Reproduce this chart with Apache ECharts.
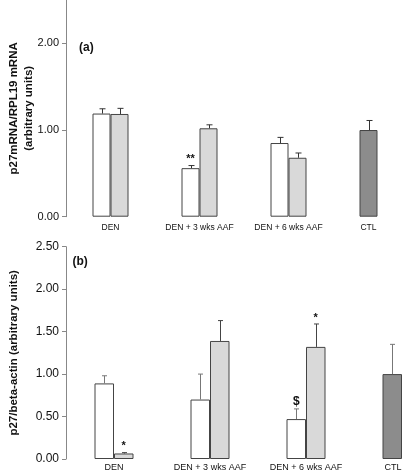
<!DOCTYPE html>
<html><head><meta charset="utf-8">
<script src="https://cdn.jsdelivr.net/npm/echarts@6/dist/echarts.min.js"></script>
<style>html,body{margin:0;padding:0;background:#fff}#c{width:402px;height:476px}</style>
</head><body><div id="c"></div>
<script>
// ---- data ----
const categories = ['DEN', 'DEN + 3 wks AAF', 'DEN + 6 wks AAF', 'CTL'];
// Panel (a): p27 mRNA / RPL19 mRNA  (first slot = DEN-treated / CTL, second slot = other group)
const aWhite = [1.19, 0.56, 0.85, 1.00];
const aWhiteErr = [0.055, 0.03, 0.065, 0.11];
const aGrey = [1.185, 1.02, 0.68, null];
const aGreyErr = [0.065, 0.04, 0.055, null];
const aTicks = [0, 1, 2];
// Panel (b): p27 / beta-actin
const bWhite = [0.89, 0.70, 0.47, 1.00];
const bWhiteErr = [0.09, 0.30, 0.12, 0.35];
const bGrey = [0.065, 1.39, 1.32, null];
const bGreyErr = [0.01, 0.24, 0.27, null];
const bTicks = [0, 0.5, 1, 1.5, 2, 2.5];
// significance marks: [panel, category, slot(0 white / 1 grey), text]
const marks = [
  ['a', 1, 0, '**'],
  ['b', 0, 1, '*'],
  ['b', 2, 0, '$'],
  ['b', 2, 1, '*']
];

const FONT = "'Liberation Sans', Arial, sans-serif";
const chart = echarts.init(document.getElementById('c'));

function barData(vals, ctlColor) {
  return vals.map((v, i) => {
    if (v == null) return null;
    if (i === 3) return { value: v, itemStyle: { color: ctlColor } };
    return v;
  });
}

function errSeries(idx, vals, errs, side, bw, color, cap) {
  const data = [];
  vals.forEach((v, i) => { if (v != null) data.push([i, v, v + errs[i]]); });
  return {
    type: 'custom', xAxisIndex: idx, yAxisIndex: idx, data, z: 5, silent: true, clip: false,
    renderItem(params, api) {
      const p0 = api.coord([api.value(0), api.value(1)]);
      const p1 = api.coord([api.value(0), api.value(2)]);
      const x = Math.round(p0[0] + side * bw / 2) + 0.5;
      return { type: 'group', children: [
        { type: 'line', shape: { x1: x, y1: p0[1], x2: x, y2: p1[1] }, style: { stroke: color, lineWidth: 1 } },
        { type: 'line', shape: { x1: x - cap, y1: p1[1], x2: x + cap, y2: p1[1] }, style: { stroke: color, lineWidth: 1 } }
      ] };
    }
  };
}

function markSeries(idx, panel, vals, errs, valsG, errsG, bw) {
  const data = [];
  marks.forEach(m => {
    if (m[0] !== panel) return;
    const v = m[2] === 0 ? vals[m[1]] + errs[m[1]] : valsG[m[1]] + errsG[m[1]];
    data.push([m[1], v, m[2], m[3]]);
  });
  return {
    type: 'custom', xAxisIndex: idx, yAxisIndex: idx, data, z: 6, silent: true, clip: false,
    renderItem(params, api) {
      const p = api.coord([api.value(0), api.value(1)]);
      const side = api.value(2) === 0 ? -1 : 1;
      const txt = data[params.dataIndex][3];
      return { type: 'text', x: p[0] + side * bw / 2, y: p[1] - 1,
        style: { text: txt, textAlign: 'center', textVerticalAlign: 'bottom',
          font: (txt === '$' ? 'bold 12px ' : 'bold 11px ') + FONT, fill: '#111' } };
    }
  };
}

const bwA = 18, bwB = 19.5;
const catLabel = (fs, top) => ({
  fontFamily: FONT, fontSize: fs, color: '#111', margin: top, interval: 0, hideOverlap: false,
  formatter: v => v === 'CTL' ? '{ctl|CTL}' : v,
  rich: { ctl: { fontFamily: FONT, fontSize: fs, color: '#111', padding: [0, 18, 0, 0] } }
});
const yLab = fs => ({ fontFamily: FONT, fontSize: fs, color: '#111', margin: 7, formatter: v => v.toFixed(2) });

const barStyle = { color: '#ffffff', borderColor: '#444', borderWidth: 1 };
const greyStyle = { color: '#d9d9d9', borderColor: '#444', borderWidth: 1 };

chart.setOption({
  animation: false,
  backgroundColor: '#fff',
  grid: [
    { left: 66, top: 0, width: 356, height: 216.7, outerBoundsMode: 'none', containLabel: false },
    { left: 66, top: 246.7, width: 384, height: 212.3, outerBoundsMode: 'none', containLabel: false }
  ],
  xAxis: [
    { type: 'category', gridIndex: 0, data: categories, axisLine: { show: false }, axisTick: { show: false }, axisLabel: catLabel(8.5, 6) },
    { type: 'category', gridIndex: 1, data: categories, axisLine: { show: false }, axisTick: { show: false }, axisLabel: catLabel(9, 4) }
  ],
  yAxis: [
    { type: 'value', gridIndex: 0, min: 0, max: 2.5, interval: 1,
      axisLine: { show: true, lineStyle: { color: '#888' } },
      axisTick: { show: true, length: 4, customValues: aTicks, lineStyle: { color: '#888' } },
      axisLabel: Object.assign(yLab(11), { customValues: aTicks }),
      splitLine: { show: false },
      name: 'p27mRNA/RPL19 mRNA\n(arbitrary units)', nameLocation: 'middle', nameGap: 30, nameRotate: 90,
      nameMoveOverlap: false,
      nameTextStyle: { fontFamily: FONT, fontSize: 11.5, fontWeight: 'bold', color: '#111', lineHeight: 15 } },
    { type: 'value', gridIndex: 1, min: 0, max: 2.5, interval: 0.5,
      axisLine: { show: true, lineStyle: { color: '#888' } },
      axisTick: { show: true, length: 4, customValues: bTicks, lineStyle: { color: '#888' } },
      axisLabel: Object.assign(yLab(12), { customValues: bTicks }),
      splitLine: { show: false },
      name: 'p27/beta-actin (arbitrary units)', nameLocation: 'middle', nameGap: 46, nameRotate: 90,
      nameTextStyle: { fontFamily: FONT, fontSize: 11.5, fontWeight: 'bold', color: '#111' } }
  ],
  graphic: [
    { type: 'text', left: 79, top: 42, style: { text: '(a)', font: 'bold 12px ' + FONT, fill: '#111' } },
    { type: 'text', left: 72.5, top: 256, style: { text: '(b)', font: 'bold 12px ' + FONT, fill: '#111' } }
  ],
  series: [
    { type: 'bar', xAxisIndex: 0, yAxisIndex: 0, data: barData(aWhite, '#8c8c8c'), barWidth: bwA, barGap: '0%', itemStyle: barStyle },
    { type: 'bar', xAxisIndex: 0, yAxisIndex: 0, data: barData(aGrey, '#8c8c8c'), barWidth: bwA, barGap: '0%', itemStyle: greyStyle },
    { type: 'bar', xAxisIndex: 1, yAxisIndex: 1, data: barData(bWhite, '#8c8c8c'), barWidth: bwB, barGap: '0%', itemStyle: barStyle },
    { type: 'bar', xAxisIndex: 1, yAxisIndex: 1, data: barData(bGrey, '#8c8c8c'), barWidth: bwB, barGap: '0%', itemStyle: greyStyle },
    errSeries(0, aWhite, aWhiteErr, -1, bwA, '#333', 3),
    errSeries(0, aGrey, aGreyErr, 1, bwA, '#333', 3),
    errSeries(1, bWhite, bWhiteErr, -1, bwB, '#777', 2.5),
    errSeries(1, bGrey, bGreyErr, 1, bwB, '#444', 2.5),
    markSeries(0, 'a', aWhite, aWhiteErr, aGrey, aGreyErr, bwA),
    markSeries(1, 'b', bWhite, bWhiteErr, bGrey, bGreyErr, bwB)
  ]
});
</script></body></html>
